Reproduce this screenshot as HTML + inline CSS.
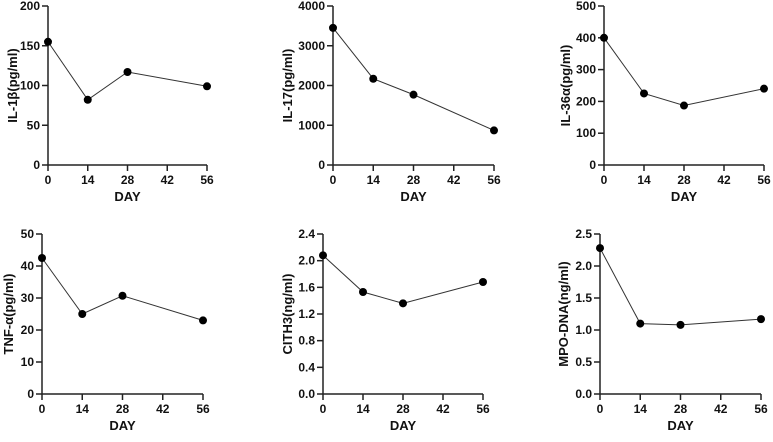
<!DOCTYPE html>
<html><head><meta charset="utf-8"><style>
body{margin:0;background:#fff;}
svg text{font-family:"Liberation Sans",Arial,sans-serif;font-weight:bold;fill:#111;}
</style></head><body>
<svg id="c" width="773" height="437"></svg>
<script>
const days=[0,14,28,56];
const xTicks=[0,14,28,42,56];
const titles=["IL-1β(pg/ml)","IL-17(pg/ml)","IL-36α(pg/ml)","TNF-α(pg/ml)","CITH3(ng/ml)","MPO-DNA(ng/ml)"];
const il1b=[155,82,117,99];
const il17=[3450,2170,1770,870];
const il36a=[400,225,187,240];
const tnfa=[42.5,25,30.7,23];
const cith3=[2.08,1.53,1.36,1.68];
const mpo=[2.28,1.10,1.08,1.17];
const yTicks1=["0","50","100","150","200"];
const yTicks2=["0","1000","2000","3000","4000"];
const yTicks3=["0","100","200","300","400","500"];
const yTicks4=["0","10","20","30","40","50"];
const yTicks5=["0.0","0.4","0.8","1.2","1.6","2.0","2.4"];
const yTicks6=["0.0","0.5","1.0","1.5","2.0","2.5"];
const panels=[
 {x0:48,x1:207,y0:165,y1:6,v:il1b,t:yTicks1,lx:12},
 {x0:333,x1:494,y0:165,y1:6,v:il17,t:yTicks2,lx:287},
 {x0:604,x1:764,y0:165,y1:6,v:il36a,t:yTicks3,lx:565},
 {x0:42,x1:203,y0:394,y1:234,v:tnfa,t:yTicks4,lx:8},
 {x0:323,x1:483,y0:394,y1:234,v:cith3,t:yTicks5,lx:287},
 {x0:600,x1:761,y0:394,y1:234,v:mpo,t:yTicks6,lx:563}
];
const svg=document.getElementById('c');
const NS="http://www.w3.org/2000/svg";
function mk(tag,attrs,parent){const e=document.createElementNS(NS,tag);for(const k in attrs)e.setAttribute(k,attrs[k]);(parent||svg).appendChild(e);return e;}
panels.forEach((p,i)=>{
 const g=mk('g',{});
 
 
 const ymax=parseFloat(p.t[p.t.length-1]);
 const sx=d=>p.x0+(d-xTicks[0])/(xTicks[xTicks.length-1]-xTicks[0])*(p.x1-p.x0);
 const sy=v=>p.y0-(v/ymax)*(p.y0-p.y1);
 const ya=mk('line',{x1:p.x0,y1:p.y0,x2:p.x0,y2:p.y1,stroke:'#222','stroke-width':1.5},g);
 
 
 const xa=mk('line',{x1:p.x0,y1:p.y0,x2:p.x1,y2:p.y0,stroke:'#222','stroke-width':1.5},g);
 
 
 p.t.forEach(t=>{const y=sy(parseFloat(t));
  mk('line',{x1:p.x0-6,y1:y,x2:p.x0,y2:y,stroke:'#222','stroke-width':1.5},g);
  const tx=mk('text',{x:p.x0-8,y:y+4,'text-anchor':'end','font-size':12},g);tx.textContent=t;
  
  });
 xTicks.forEach(d=>{const x=sx(d);
  mk('line',{x1:x,y1:p.y0,x2:x,y2:p.y0+6,stroke:'#222','stroke-width':1.5},g);
  const tx=mk('text',{x:x,y:p.y0+19,'text-anchor':'middle','font-size':12},g);tx.textContent=d;
  
  });
 const xl=mk('text',{x:(p.x0+p.x1)/2,y:p.y0+36,'text-anchor':'middle','font-size':13},g);xl.textContent='DAY';
 
 
 const cy=(p.y0+p.y1)/2;
 const yl=mk('text',{x:p.lx,y:cy,'text-anchor':'middle','font-size':13,transform:`rotate(-90 ${p.lx} ${cy})`,dy:5},g);yl.textContent=titles[i];
 
 
 const pts=days.map((d,j)=>sx(d)+','+sy(p.v[j])).join(' ');
 const ln=mk('polyline',{points:pts,fill:'none',stroke:'#333','stroke-width':1},g);
 
 
 days.forEach((d,j)=>{const c=mk('circle',{cx:sx(d),cy:sy(p.v[j]),r:4,fill:'#000'},g);
  
  });
});
</script>
</body></html>
